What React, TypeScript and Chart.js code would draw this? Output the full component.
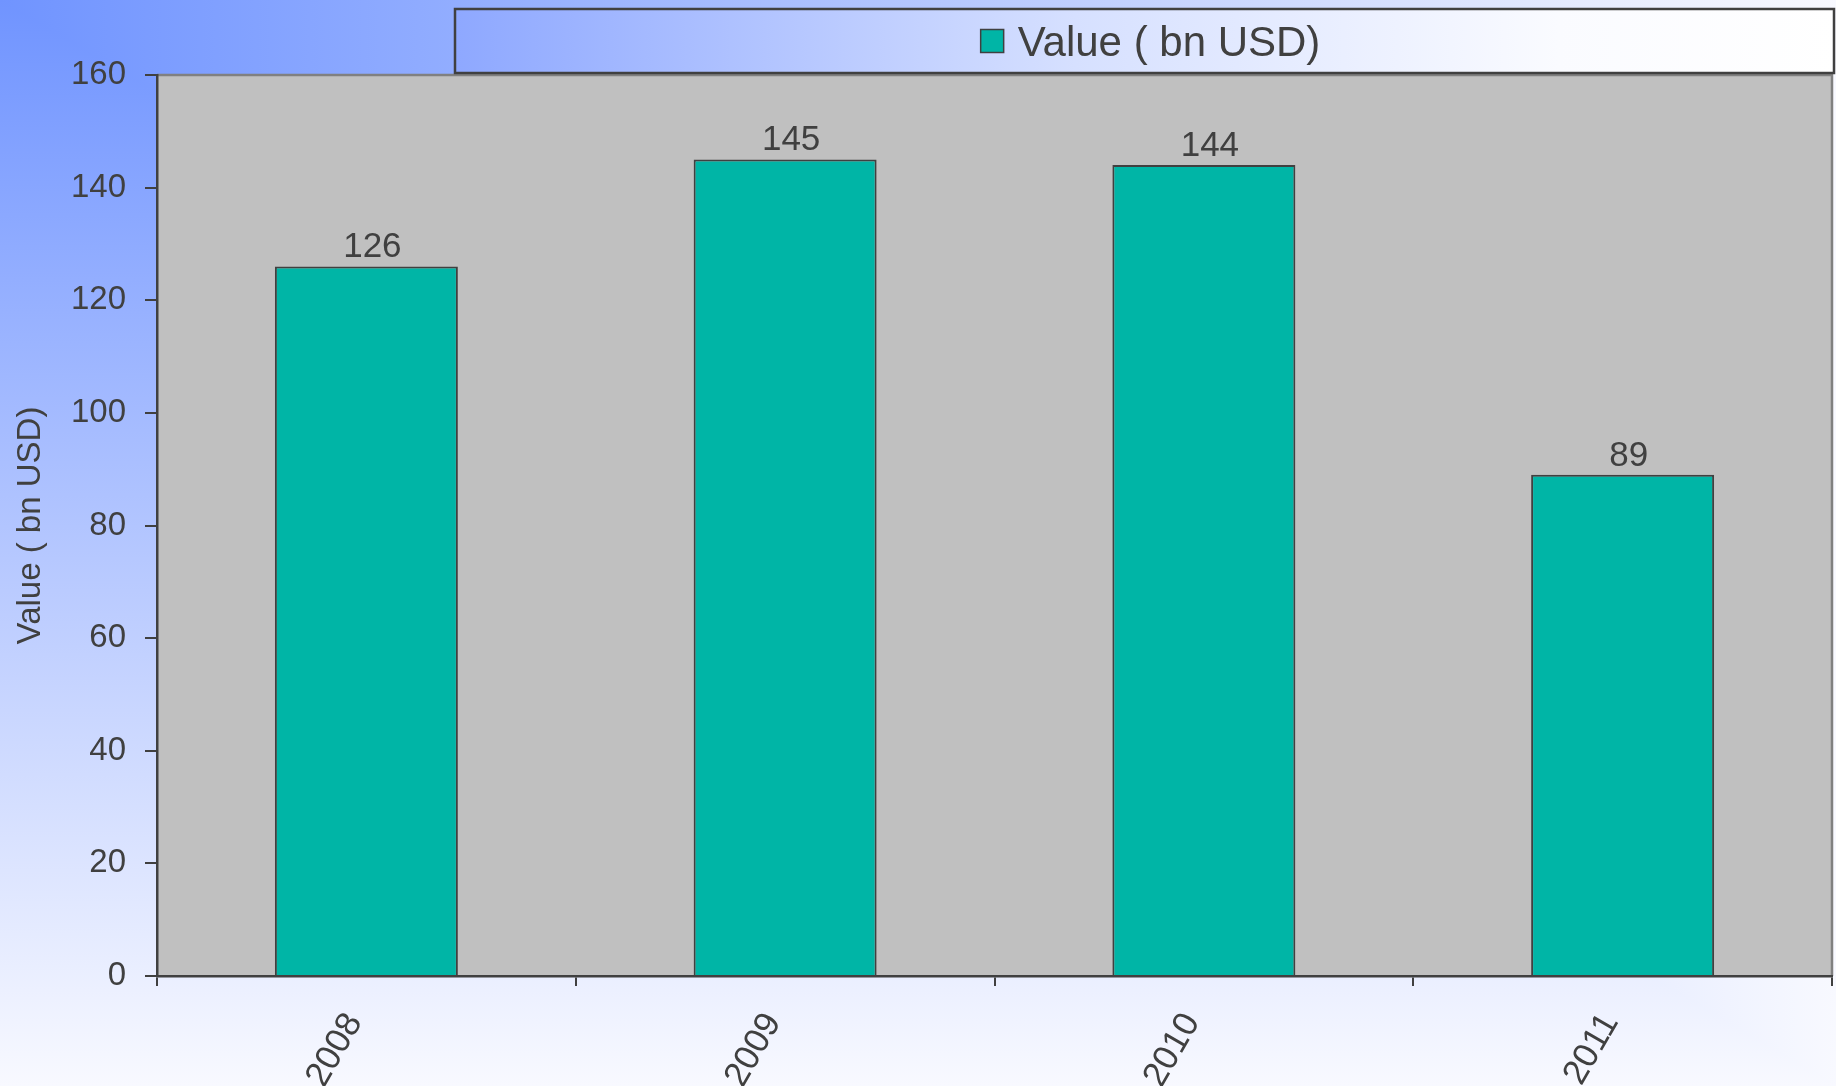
import React, { useEffect, useRef } from "react";
import { Chart, registerables } from "chart.js";

Chart.register(...registerables);

// ---- data ----
const categories = ["2008", "2009", "2010", "2011"];
const values = [126, 145, 144, 89];
const seriesLabel = "Value ( bn USD)";
const yAxisTitle = "Value ( bn USD)";
const yMin = 0;
const yMax = 160;
const yStep = 20;

// ---- styles ----
const W = 1836;
const H = 1086;
const FONT = '"Liberation Sans", Arial, Helvetica, sans-serif';
const TEXT = "#404040";
const BAR = "#00B5A6";
const BG_START = "rgb(112,148,255)";
const BG_END = "rgb(248,249,255)";

const backgroundPlugin = {
  id: "bgPlugin",
  beforeDraw(chart: any) {
    const { ctx, width, height, chartArea } = chart;
    ctx.save();
    // corner gradient: t = max(x/W, y/H)
    const gh = ctx.createLinearGradient(0, 0, width, 0);
    gh.addColorStop(0, BG_START);
    gh.addColorStop(1, BG_END);
    ctx.fillStyle = gh;
    ctx.fillRect(0, 0, width, height);
    const gv = ctx.createLinearGradient(0, 0, 0, height);
    gv.addColorStop(0, BG_START);
    gv.addColorStop(1, BG_END);
    ctx.fillStyle = gv;
    ctx.beginPath();
    ctx.moveTo(0, 0);
    ctx.lineTo(width, height);
    ctx.lineTo(0, height);
    ctx.closePath();
    ctx.fill();
    // plot area
    const { left, top, right, bottom } = chartArea;
    ctx.fillStyle = "#c0c0c0";
    ctx.fillRect(left, top, right - left, bottom - top);
    ctx.strokeStyle = "#808080";
    ctx.lineWidth = 2.5;
    ctx.beginPath();
    ctx.moveTo(left, top);
    ctx.lineTo(right, top);
    ctx.lineTo(right, bottom);
    ctx.stroke();
    ctx.restore();
  },
};

const valueLabelPlugin = {
  id: "valueLabels",
  afterDatasetsDraw(chart: any) {
    const { ctx } = chart;
    const meta = chart.getDatasetMeta(0);
    const data = chart.data.datasets[0].data;
    ctx.save();
    ctx.font = `35px ${FONT}`;
    ctx.fillStyle = TEXT;
    ctx.textAlign = "center";
    ctx.textBaseline = "alphabetic";
    meta.data.forEach((el: any, i: number) => {
      ctx.fillText(String(data[i]), el.x + 6, el.y - 9);
    });
    ctx.restore();
  },
};

const legendPlugin = {
  id: "customLegend",
  afterDraw(chart: any) {
    const { ctx, width } = chart;
    const x0 = 455;
    const y0 = 9;
    const x1 = width - 2;
    const y1 = 73;
    ctx.save();
    const g = ctx.createLinearGradient(x0, 0, x1, 0);
    g.addColorStop(0, "rgb(142,168,255)");
    g.addColorStop(0.45, "rgb(214,224,255)");
    g.addColorStop(0.8, "rgb(250,251,255)");
    g.addColorStop(1, "rgb(255,255,255)");
    ctx.fillStyle = g;
    ctx.fillRect(x0, y0, x1 - x0, y1 - y0);
    ctx.strokeStyle = "#404040";
    ctx.lineWidth = 2.5;
    ctx.strokeRect(x0, y0, x1 - x0, y1 - y0);

    const ds = chart.data.datasets[0];
    ctx.font = `42px ${FONT}`;
    const tw = ctx.measureText(ds.label).width;
    const sw = 23;
    const gap = 14;
    const total = sw + gap + tw;
    const cx = (x0 + x1) / 2 + 6;
    const cy = (y0 + y1) / 2;
    const sx = cx - total / 2;
    ctx.fillStyle = ds.backgroundColor;
    ctx.fillRect(sx, cy - sw / 2, sw, sw);
    ctx.strokeStyle = "#404040";
    ctx.lineWidth = 1.5;
    ctx.strokeRect(sx, cy - sw / 2, sw, sw);
    ctx.fillStyle = TEXT;
    ctx.textAlign = "left";
    ctx.textBaseline = "middle";
    ctx.fillText(ds.label, sx + sw + gap, cy + 3);
    ctx.restore();
  },
};

export default function App() {
  const canvasRef = useRef<HTMLCanvasElement | null>(null);

  useEffect(() => {
    if (!canvasRef.current) return;
    const chart = new Chart(canvasRef.current, {
      type: "bar",
      data: {
        labels: categories,
        datasets: [
          {
            label: seriesLabel,
            data: values,
            backgroundColor: BAR,
            borderColor: "#404040",
            borderWidth: 2,
            borderSkipped: "start",
            barPercentage: 0.437,
            categoryPercentage: 1,
          },
        ],
      },
      options: {
        responsive: false,
        animation: false,
        devicePixelRatio: 1,
        layout: { padding: { left: 0, right: 4, top: 75, bottom: 0 } },
        plugins: {
          legend: { display: false },
          tooltip: { enabled: false },
        },
        scales: {
          x: {
            type: "category",
            offset: true,
            grid: {
              offset: true,
              drawOnChartArea: false,
              drawTicks: true,
              tickLength: 10,
              color: "#404040",
              lineWidth: 2,
            },
            border: { display: true, color: "#404040", width: 2.5 },
            ticks: {
              font: { family: FONT, size: 35 },
              color: TEXT,
              minRotation: 60,
              maxRotation: 60,
              padding: 20,
              labelOffset: -12,
              autoSkip: false,
            },
            afterFit: (s: any) => {
              s.height = 110;
            },
          },
          y: {
            min: yMin,
            max: yMax,
            ticks: {
              stepSize: yStep,
              font: { family: FONT, size: 33 },
              color: TEXT,
              padding: 19,
            },
            grid: {
              drawOnChartArea: false,
              drawTicks: true,
              tickLength: 12,
              color: "#404040",
              lineWidth: 2,
            },
            border: { display: true, color: "#404040", width: 2.5 },
            title: {
              display: true,
              text: yAxisTitle,
              font: { family: FONT, size: 33 },
              color: TEXT,
              padding: { top: 11, bottom: 0 },
            },
            afterFit: (s: any) => {
              s.width = 157;
            },
          },
        },
      },
      plugins: [backgroundPlugin, valueLabelPlugin, legendPlugin],
    } as any);
    return () => chart.destroy();
  }, []);

  return (
    <div style={{ position: "fixed", left: 0, top: 0, width: W, height: H }}>
      <canvas ref={canvasRef} width={W} height={H} style={{ display: "block", width: W, height: H }} />
    </div>
  );
}
